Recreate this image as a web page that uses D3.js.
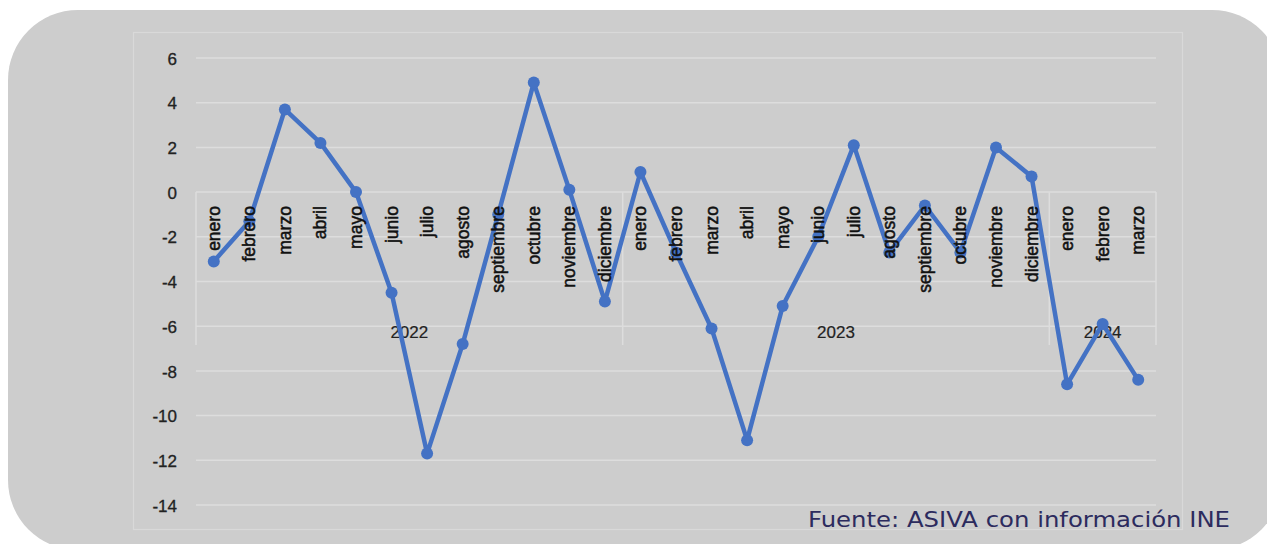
<!DOCTYPE html>
<html>
<head>
<meta charset="utf-8">
<script src="https://cdn.jsdelivr.net/npm/d3@7"></script>
<style>
  html, body { margin: 0; padding: 0; background: #ffffff; }
  svg { display: block; }
</style>
</head>
<body>
<svg id="chart" width="1267" height="544"></svg>
<script>
// ---- Data ----
const monthNames = ["enero","febrero","marzo","abril","mayo","junio","julio","agosto","septiembre","octubre","noviembre","diciembre"];
const years = ["2022", "2023", "2024"];
const monthsPerYear = [12, 12, 3];
const categories = [
  ...monthNames.map(m => ({ year: "2022", month: m })),
  ...monthNames.map(m => ({ year: "2023", month: m })),
  ...monthNames.slice(0, 3).map(m => ({ year: "2024", month: m }))
];
const values2022 = [-3.1, -1.3, 3.7, 2.2, 0.0, -4.5, -11.7, -6.8, -1.0, 4.9, 0.1, -4.9];
const values2023 = [0.9, -2.7, -6.1, -11.1, -5.1, -2.0, 2.1, -2.7, -0.6, -2.7, 2.0, 0.7];
const values2024 = [-8.6, -5.9, -8.4];
const values = [...values2022, ...values2023, ...values2024];
const yTicks = [6, 4, 2, 0, -2, -4, -6, -8, -10, -12, -14];
const sourceText = "Fuente: ASIVA con información INE";

// ---- Layout ----
const svg = d3.select("#chart");
const plot = { left: 196, right: 1156, top: 58, bottom: 505 };
const blue = "#4472C4";
const gridColor = "#dddddd";
const txtFont = "'Liberation Sans', Arial, sans-serif";

// background card
svg.append("rect")
  .attr("x", 8).attr("y", 10)
  .attr("width", 1274).attr("height", 540)
  .attr("rx", 70).attr("ry", 70)
  .attr("fill", "#cdcdcd");

// chart area border
svg.append("rect")
  .attr("x", 133.5).attr("y", 32.5)
  .attr("width", 1049).attr("height", 497)
  .attr("fill", "none")
  .attr("stroke", "#d9d9d9")
  .attr("stroke-width", 1.2);

const x = d3.scaleBand()
  .domain(d3.range(categories.length))
  .range([plot.left, plot.right])
  .padding(0);
const bw = x.bandwidth();
const cx = i => x(i) + bw / 2;

const y = d3.scaleLinear()
  .domain([-14, 6])
  .range([plot.bottom, plot.top]);

// gridlines
svg.append("g").selectAll("line")
  .data(yTicks)
  .join("line")
  .attr("x1", plot.left).attr("x2", plot.right)
  .attr("y1", d => y(d)).attr("y2", d => y(d))
  .attr("stroke", gridColor)
  .attr("stroke-width", 1.5);

// y axis labels
const yAxis = d3.axisLeft(y).tickValues(yTicks).tickSize(0).tickPadding(0)
  .tickFormat(d3.format("d"));
const yg = svg.append("g")
  .attr("transform", `translate(177,0)`)
  .call(yAxis);
yg.select(".domain").remove();
yg.selectAll("text")
  .attr("font-family", txtFont)
  .attr("font-size", 17)
  .attr("fill", "#222")
  .attr("stroke", "#222")
  .attr("stroke-width", 0.3)
  .attr("dy", "0.36em")
  .text(d => d < 0 ? "-" + Math.abs(d) : d);

// category axis: year separators
let acc = 0;
const boundaries = [0];
monthsPerYear.forEach(n => { acc += n; boundaries.push(acc); });
const sepX = boundaries.map(b => b < categories.length ? x(b) : x(categories.length - 1) + bw);
const catBottom = 345;
svg.append("g").selectAll("line")
  .data(sepX)
  .join("line")
  .attr("x1", d => d).attr("x2", d => d)
  .attr("y1", y(0)).attr("y2", catBottom)
  .attr("stroke", gridColor)
  .attr("stroke-width", 1.5);

// year labels
svg.append("g").selectAll("text")
  .data(years)
  .join("text")
  .attr("x", (d, i) => (sepX[i] + sepX[i + 1]) / 2)
  .attr("y", 338)
  .attr("text-anchor", "middle")
  .attr("font-family", txtFont)
  .attr("font-size", 17)
  .attr("fill", "#222")
  .attr("stroke", "#222")
  .attr("stroke-width", 0.2)
  .text(d => d);

// line series
const line = d3.line()
  .x((d, i) => cx(i))
  .y(d => y(d));
svg.append("path")
  .datum(values)
  .attr("d", line)
  .attr("fill", "none")
  .attr("stroke", blue)
  .attr("stroke-width", 4.5)
  .attr("stroke-linejoin", "round");

svg.append("g").selectAll("circle")
  .data(values)
  .join("circle")
  .attr("cx", (d, i) => cx(i))
  .attr("cy", d => y(d))
  .attr("r", 6)
  .attr("fill", blue);

// month labels (rotated)
svg.append("g").selectAll("text")
  .data(categories)
  .join("text")
  .attr("transform", (d, i) => `translate(${cx(i) + 6},${y(0) + 14}) rotate(-90)`)
  .attr("text-anchor", "end")
  .attr("font-family", txtFont)
  .attr("font-size", 17.5)
  .attr("fill", "#111")
  .attr("stroke", "#111")
  .attr("stroke-width", 0.5)
  .text(d => d.month);

// source
svg.append("text")
  .attr("x", 1230)
  .attr("y", 527)
  .attr("text-anchor", "end")
  .attr("font-family", "'DejaVu Sans', 'Open Sans', sans-serif")
  .attr("font-size", 21)
  .attr("textLength", 422)
  .attr("lengthAdjust", "spacingAndGlyphs")
  .attr("fill", "#2c2b5e")
  .text(sourceText);
</script>
</body>
</html>
